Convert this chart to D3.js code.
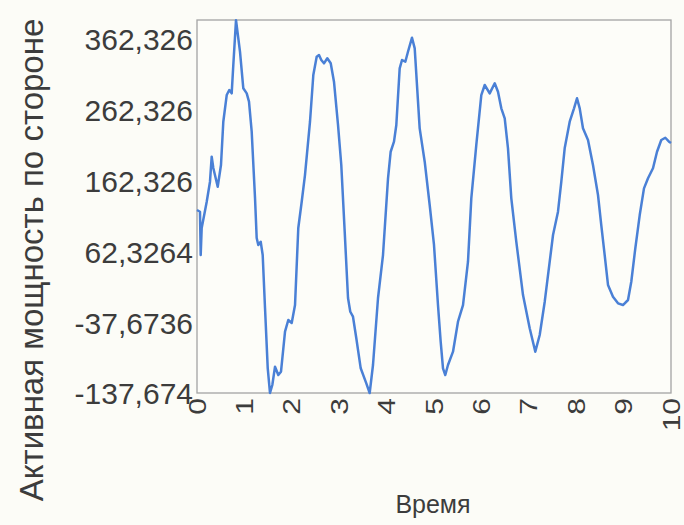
<!DOCTYPE html>
<html>
<head>
<meta charset="utf-8">
<script src="https://cdn.jsdelivr.net/npm/d3@7/dist/d3.min.js"></script>
<style>
  html, body { margin: 0; padding: 0; background: #fcfcf7; }
  svg { display: block; }
  text { font-family: "Liberation Sans", Arial, sans-serif; }
</style>
</head>
<body>
<svg id="chart" width="684" height="525"></svg>
<script>
// ---- data ----
const time = [0,0.063,0.078,0.099,0.205,0.274,0.310,0.344,0.437,0.506,0.555,0.627,0.681,0.732,0.766,0.823,0.907,0.977,1.049,1.097,1.154,1.224,1.259,1.293,1.344,1.386,1.435,1.492,1.540,1.589,1.646,1.715,1.772,1.857,1.926,1.998,2.068,2.137,2.209,2.278,2.384,2.454,2.525,2.574,2.622,2.679,2.749,2.821,2.890,2.975,3.044,3.116,3.186,3.234,3.291,3.361,3.454,3.572,3.643,3.713,3.819,3.924,4.030,4.086,4.156,4.205,4.276,4.325,4.395,4.451,4.536,4.593,4.698,4.804,4.909,5.000,5.084,5.141,5.190,5.238,5.295,5.401,5.506,5.612,5.717,5.787,5.892,5.998,6.070,6.175,6.281,6.350,6.420,6.492,6.561,6.631,6.736,6.878,7.019,7.137,7.230,7.336,7.441,7.511,7.616,7.686,7.757,7.863,7.954,8.017,8.074,8.143,8.249,8.354,8.460,8.529,8.601,8.671,8.776,8.882,8.987,9.093,9.162,9.247,9.340,9.430,9.515,9.620,9.705,9.795,9.880,9.958,10.0];
const power = [120.8,118.4,57.2,95.4,132.5,160.8,196.1,180.1,153.7,184.4,245.5,283.2,290.3,285.6,325.6,389.0,344.4,292.7,285.6,273.8,231.4,137.7,81.2,71.4,76.0,57.2,-17.6,-102.4,-137.674,-126.4,-100.5,-112.3,-107.6,-51.1,-34.6,-38.8,-13.4,95.4,132.5,170.2,245.5,311.5,337.3,339.7,332.7,328.0,335.1,328.0,302.0,240.9,184.4,90.2,-3.5,-22.9,-29.9,-60.4,-102.8,-124.0,-137.674,-98.1,-3.5,57.2,165.6,203.1,217.3,240.9,320.9,332.7,330.3,344.4,364.2,349.2,236.2,189.0,127.9,71.4,-13.4,-65.2,-102.8,-112.3,-98.1,-79.3,-37.0,-13.4,47.8,137.3,212.6,283.2,297.4,285.6,299.8,287.9,264.4,250.3,207.9,137.3,76.0,0.7,-46.3,-79.3,-55.8,-8.7,47.8,85.5,118.4,160.8,207.9,245.5,264.4,278.6,264.4,236.2,219.7,184.4,142.0,99.6,57.2,14.9,-1.7,-11.0,-13.4,-6.3,19.5,66.7,113.7,151.4,165.6,179.7,203.1,219.7,222.9,217.3,215.4];
const yTickValues = [-137.674, -37.6736, 62.3264, 162.326, 262.326, 362.326];
const yTickLabels = ["-137,674", "-37,6736", "62,3264", "162,326", "262,326", "362,326"];
const xTickValues = [0,1,2,3,4,5,6,7,8,9,10];
const xTickLabels = ["0","1","2","3","4","5","6","7","8","9","10"];
const yDomain = [-137.674, 389.2];
const xTitle = "Время";
const yTitle = "Активная мощность по стороне";

// ---- layout ----
const svg = d3.select("#chart");
const L = 197, R = 671, T = 20, B = 393;
const x = d3.scaleLinear().domain([0, 10]).range([L, R]);
const y = d3.scaleLinear().domain(yDomain).range([B, T]);

// frame
svg.append("rect").attr("x", L).attr("y", T).attr("width", R - L).attr("height", B - T)
  .attr("fill", "#fdfdf9").attr("stroke", "#a4a4a4").attr("stroke-width", 1.3);

// y axis labels
const yAxis = d3.axisLeft(y).tickValues(yTickValues)
  .tickFormat((d, i) => yTickLabels[i]).tickSize(0).tickPadding(4);
const gy = svg.append("g").attr("transform", `translate(${L},0)`).call(yAxis);
gy.select(".domain").remove();
gy.selectAll("text").attr("font-size", 30).attr("fill", "#3c3c3c")
  .attr("font-family", "Liberation Sans, Arial, sans-serif").attr("dy", "0.36em");

// x axis labels (rotated)
const xAxis = d3.axisBottom(x).tickValues(xTickValues)
  .tickFormat((d, i) => xTickLabels[i]).tickSize(0);
const gx = svg.append("g").attr("transform", `translate(0,${B})`).call(xAxis);
gx.select(".domain").remove();
gx.selectAll("text")
  .attr("font-size", 24).attr("fill", "#3c3c3c")
  .attr("font-family", "Liberation Sans, Arial, sans-serif")
  .attr("text-anchor", "end").attr("x", 0).attr("y", 0).attr("dy", 0)
  .attr("transform", "translate(8,5) rotate(-90) scale(1.25,1)");

// line
const line = d3.line().x((d, i) => x(time[i])).y(d => y(d));
svg.append("path").datum(power).attr("d", line)
  .attr("fill", "none").attr("stroke", "#4a80d6").attr("stroke-width", 2.5)
  .attr("stroke-linejoin", "round");

// titles
svg.append("text").attr("x", 433).attr("y", 513).attr("text-anchor", "middle")
  .attr("font-size", 25).attr("fill", "#3c3c3c").text(xTitle);

svg.append("text").attr("transform", "translate(43,260) rotate(-90)")
  .attr("text-anchor", "middle").attr("font-size", 33).attr("fill", "#3c3c3c")
  .text(yTitle);
</script>
</body>
</html>
